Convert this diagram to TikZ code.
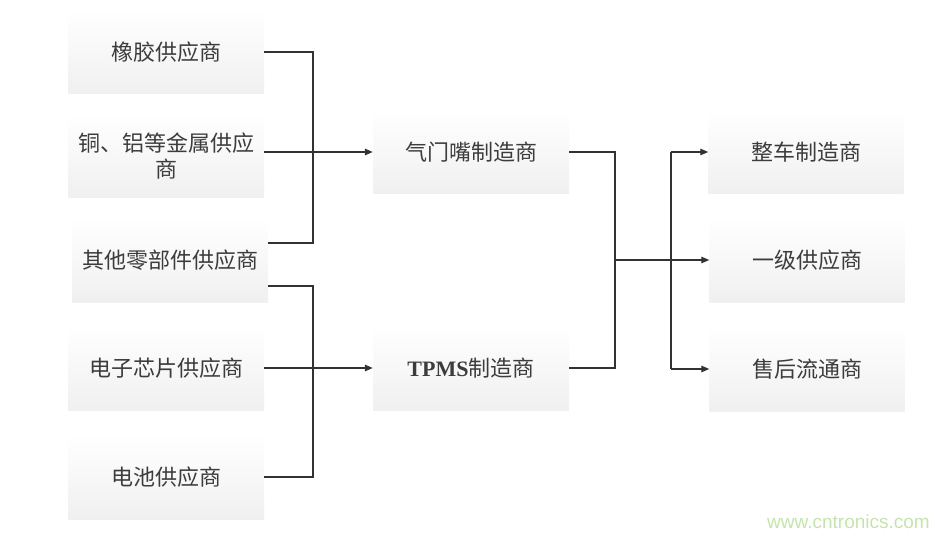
\documentclass[tikz,border=0pt]{standalone}
\usepackage{fontspec}
\setmainfont{Liberation Serif}
\newfontfamily\cjk{Noto Sans CJK SC}
\newfontfamily\wmfont{Liberation Sans}
\usetikzlibrary{arrows.meta,calc}
\definecolor{txt}{RGB}{60,60,60}
\definecolor{ln}{RGB}{50,50,50}
\definecolor{wm}{RGB}{196,228,172}
\tikzset{
  box/.style={minimum width=196pt, minimum height=84pt, inner sep=0pt,
    top color=white, bottom color=black!6, draw=none,
    text=txt, font=\cjk\fontsize{22}{26}\selectfont, align=center},
  conn/.style={draw=ln, line width=1.3pt},
  arr/.style={conn, -{Triangle[length=8pt,width=6.5pt]}},
}
\begin{document}
\begin{tikzpicture}[x=1pt,y=1pt,yscale=-1]
\useasboundingbox (0,0) rectangle (950,537);
% left column
\node[box] (L1) at (166,52) {橡胶供应商};
\node[box] (L2) at (166,156) {铜、铝等金属供应\\商};
\node[box] (L3) at (170,260) {其他零部件供应商};
\node[box] (L4) at (166,368) {电子芯片供应商};
\node[box] (L5) at (166,477) {电池供应商};
% middle
\node[box] (M1) at (471,152) {气门嘴制造商};
\node[box] (M2) at (471,368) {{\rmfamily\bfseries TPMS}制造商};
% right
\node[box, minimum width=195pt] (R1) at (806,152) {整车制造商};
\node[box, minimum width=195pt] (R2) at (807,260) {一级供应商};
\node[box, minimum width=195pt] (R3) at (807,369) {售后流通商};
% junction coordinates
\coordinate (jL) at (313,0);
\coordinate (jM) at (615,0);
\coordinate (jR) at (671,0);
\coordinate (L3a) at ($(L3.east)+(0,-17)$);
\coordinate (L3b) at ($(L3.east)+(0,26)$);
% left connectors
\draw[conn] (L1.east) -| (jL |- L3a) -- (L3a);
\draw[conn] (L3b) -| (jL |- L5.east) -- (L5.east);
\draw[arr] (L2.east |- M1.west) -- (M1.west);
\draw[arr] (L4.east) -- (M2.west);
% right connectors
\draw[conn] (M1.east) -| (jM |- M2.east) -- (M2.east);
\draw[arr] (jM |- R2.west) -- (R2.west);
\draw[conn] (jR |- R1.west) -- (jR |- R3.west);
\draw[arr] (jR |- R1.west) -- (R1.west);
\draw[arr] (jR |- R3.west) -- (R3.west);
% watermark
\node[text=wm, font=\wmfont\fontsize{19}{22}\selectfont, anchor=east, inner sep=0pt] (wmk) at (930,522) {www.cntronics.com};
\end{tikzpicture}
\end{document}
